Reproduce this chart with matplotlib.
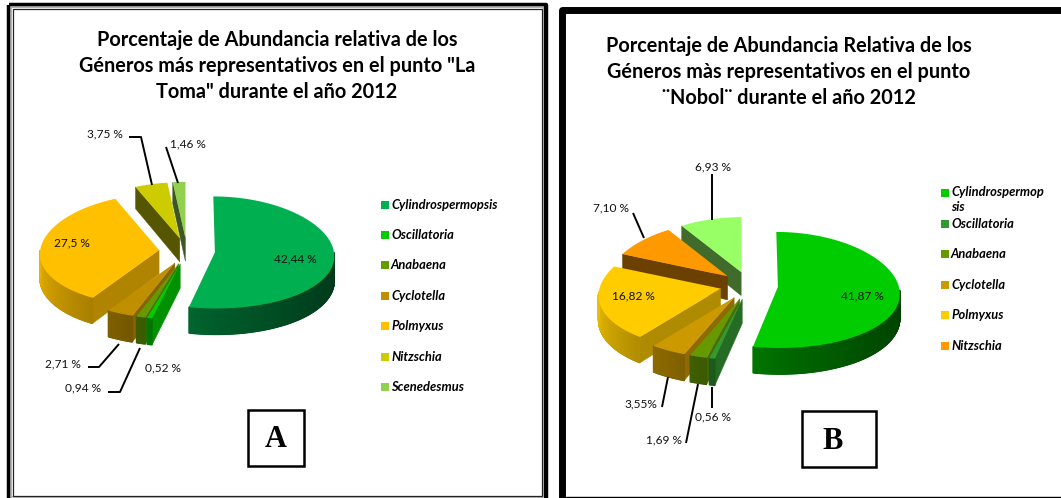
import numpy as np
import matplotlib
matplotlib.use('Agg')
import matplotlib.pyplot as plt
from matplotlib.colors import to_rgb
from matplotlib.patches import Rectangle

plt.rcParams['font.family'] = ['Lato', 'DejaVu Sans']

# Panel A - La Toma
genera_a = ['Cylindrospermopsis', 'Oscillatoria', 'Anabaena', 'Cyclotella',
            'Polmyxus', 'Nitzschia', 'Scenedesmus']
values_a = [42.44, 0.52, 0.94, 2.71, 27.5, 3.75, 1.46]
labels_a = ['42,44 %', '0,52 %', '0,94 %', '2,71 %', '27,5 %', '3,75 %', '1,46 %']
colors_a = ['#00b050', '#00cc00', '#669900', '#bf8f00', '#ffc000', '#cccc00', '#92d050']

# Panel B - Nobol
genera_b = ['Cylindrospermop\nsis', 'Oscillatoria', 'Anabaena', 'Cyclotella',
            'Polmyxus', 'Nitzschia']
values_b = [41.87, 0.56, 1.69, 3.55, 16.82, 7.10, 6.93]
labels_b = ['41,87 %', '0,56 %', '1,69 %', '3,55%', '16,82 %', '7,10 %', '6,93 %']
colors_b = ['#00cc00', '#339933', '#669900', '#cc9900', '#ffcc00', '#ff9900', '#99ff66']

title_a = 'Porcentaje de Abundancia relativa de los\nGéneros más representativos en el punto "La\nToma" durante el año 2012'
title_b = 'Porcentaje de Abundancia Relativa de los\nGéneros màs representativos en el punto\n¨Nobol¨ durante el año 2012'


def shade(color, factor):
    return tuple(c * factor for c in to_rgb(color))


def depth_at(y, cy, wall):
    # the far side of the pie is drawn a little thinner than the near side
    return wall + 0.036 * (y - cy)


def pie3d(ax, values, colors, cx, cy, rx, ry, wall, pull, rim_drop=0):
    vals = np.array(values)
    edges = np.concatenate([[0], np.cumsum(vals / vals.sum() * 360)])
    mids = (edges[:-1] + edges[1:]) / 2
    # paint the back slices first
    order = np.argsort(-np.cos(np.radians(mids)))
    for i in order:
        t0, t1 = edges[i], edges[i + 1]
        m = np.radians(mids[i])
        x0 = cx + pull * np.sin(m)
        y0 = cy - pull * (ry / rx) * np.cos(m)
        t = np.radians(np.linspace(t0, t1, max(int(t1 - t0) * 3, 6)))
        xs = x0 + rx * np.sin(t)
        ys = y0 + rim_drop - ry * np.cos(t)
        # simple perspective: things further back sit closer to the middle
        xs = cx + (xs - cx) * (1 + 0.001 * (ys - cy))
        x0 = cx + (x0 - cx) * (1 + 0.001 * (y0 - cy))

        # cut face at the start of the slice
        if t0 >= 180:
            fac = np.interp(t0, [180, 220, 290, 360], [0.72, 0.68, 0.42, 0.42])
            d0 = depth_at(y0, cy, wall)
            d1 = depth_at(ys[0], cy, wall)
            ax.fill([x0, xs[0], xs[0], x0], [y0, ys[0], ys[0] + d1, y0 + d0],
                    color=shade(colors[i], fac), lw=0.3, zorder=2)

        # outer rim, only where it faces the viewer
        for j in range(len(t) - 1):
            deg = np.degrees((t[j] + t[j + 1]) / 2)
            if deg < 90 or deg > 270:
                continue
            fac = np.interp(deg, [90, 135, 180, 225, 270], [0.3, 0.38, 0.52, 0.72, 0.93])
            d0 = depth_at(ys[j], cy, wall)
            d1 = depth_at(ys[j + 1], cy, wall)
            ax.fill([xs[j], xs[j + 1], xs[j + 1], xs[j]],
                    [ys[j], ys[j + 1], ys[j + 1] + d1, ys[j] + d0],
                    color=shade(colors[i], fac), lw=0.9, zorder=2)

        # top of the slice
        ax.fill(np.r_[x0, xs], np.r_[y0, ys], color=colors[i], lw=0, zorder=2)


def legend(ax, names, colors, x, ys):
    for name, col, y in zip(names, colors, ys):
        ax.add_patch(Rectangle((x, y - 4), 8, 8, color=col, lw=0, zorder=3))
        va_y = y - 7 if '\n' in name else y
        ax.text(x + 10, va_y, name, fontsize=9.3, fontweight='bold', style='italic',
                va='top' if '\n' in name else 'center', linespacing=1.3, color='black')


def leader(ax, points):
    xs, ys = zip(*points)
    ax.plot(xs, ys, color='black', lw=1.4, solid_capstyle='butt', zorder=4)


fig = plt.figure(figsize=(10.61, 4.98), dpi=100)
ax = fig.add_axes([0, 0, 1, 1])
ax.set_xlim(0, 1061)
ax.set_ylim(498, 0)
ax.axis('off')

# frames
ax.add_patch(Rectangle((8.5, 4.5), 537.5, 510, fill=False, ec='black', lw=3.2, joinstyle='round'))
ax.add_patch(Rectangle((11, 7), 532, 490, fill=False, ec='#b0b0b0', lw=1.2))
ax.add_patch(Rectangle((12.5, 8.5), 529, 487, fill=False, ec='#222222', lw=0.9))
ax.plot([561.5, 561.5, 1061], [498, 10, 10], color='black', lw=5, solid_joinstyle='round')
ax.plot([561.5, 1061], [497, 497], color='black', lw=1)

# titles
ax.text(277, 66, title_a, fontsize=14.3, fontweight='bold', ha='center', va='center', linespacing=1.4)
ax.text(789, 72, title_b, fontsize=14.3, fontweight='bold', ha='center', va='center', linespacing=1.4)

pie3d(ax, values_a, colors_a, 187, 251, 119, 56, 24, 28)
pie3d(ax, values_b, colors_b, 749, 285.5, 121, 58, 24, 29, rim_drop=3)

legend(ax, genera_a, colors_a, 381, [205, 235, 265, 296, 326, 357, 387])
legend(ax, genera_b, colors_b, 941, [193, 224, 254, 285, 315, 346])

# value labels, same order as the values
label_pos_a = [(295, 259), (163, 368), (83, 388), (63, 364), (72, 243), (105, 134), (188, 144)]
label_pos_b = [(862, 296), (713, 417), (664, 440), (641, 404), (633, 296), (611, 208), (713, 167)]
for txt, pos in zip(labels_a + labels_b, label_pos_a + label_pos_b):
    ax.text(pos[0], pos[1], txt, fontsize=8.6, ha='center', va='center', color='#111111', zorder=5)

leader(ax, [(129, 137), (141, 137), (152, 185)])
leader(ax, [(166, 147), (178, 183)])
leader(ax, [(88, 367), (99, 367), (119, 344)])
leader(ax, [(108, 392), (120, 392), (140, 348)])
leader(ax, [(712, 174), (712, 220)])
leader(ax, [(633, 213), (644, 238)])
leader(ax, [(662, 407), (668, 377)])
leader(ax, [(686, 443), (698, 384)])
leader(ax, [(712, 408), (712, 387)])

# panel letters
ax.add_patch(Rectangle((248, 409.5), 56, 56, fill=False, ec='black', lw=1.8))
ax.add_patch(Rectangle((802, 410.5), 74, 56, fill=False, ec='black', lw=1.8))
ax.text(276, 439, 'A', family='Liberation Serif', fontsize=22, fontweight='bold', ha='center', va='center')
ax.text(833, 441, 'B', family='Liberation Serif', fontsize=22, fontweight='bold', ha='center', va='center')

fig.savefig('out.png', dpi=100)
